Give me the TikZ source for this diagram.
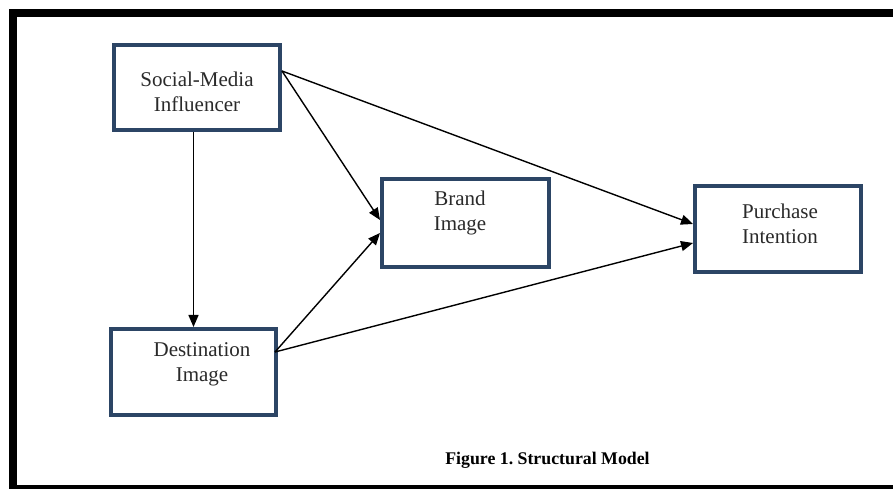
\documentclass[tikz,border=0pt]{standalone}
\usepackage{fontspec}
\setmainfont{Liberation Serif}
\usetikzlibrary{arrows.meta}
\definecolor{boxblue}{HTML}{2C4565}
\definecolor{txt}{HTML}{2A2A2A}
\tikzset{
  box/.style={draw=boxblue, line width=4pt, fill=white, minimum width=#1, minimum height=86pt, inner sep=0pt},
  lbl/.style={align=center, font=\fontsize{21}{25}\selectfont, text=txt, inner sep=0pt},
  arr/.style={draw=black, line width=1.4pt, -{Triangle[length=12pt,width=10pt]}},
  frame/.style={draw=black, line width=8pt}
}
\frenchspacing
\begin{document}
\begin{tikzpicture}[x=1pt,y=1pt]
\useasboundingbox (0,0) rectangle (893,489);
\clip (0,0) rectangle (893,489);
\fill[white] (0,0) rectangle (893,489);
\draw[frame] (13,0) rectangle (905,476);

\node[box=166pt, minimum height=85pt] (smi) at (197,401.5) {};
\node[box=165pt, minimum height=86pt] (di) at (193.5,117) {};
\node[box=167pt, minimum height=88pt] (bi) at (465.5,266) {};
\node[box=166pt, minimum height=86pt] (pi) at (778,260) {};

\node[lbl] (smit) at (197,397.5) {Social-Media\\Influencer};
\node[lbl] (dit) at (202,125) {Destination\\Image};
\node[lbl] (bit) at (460,276) {Brand\\Image};
\node[lbl] (pit) at (780,265) {Purchase\\Intention};

\node[font=\bfseries\fontsize{17.8}{20}\selectfont, anchor=base, inner sep=0pt] (cap) at (547.5,24) {Figure 1. Structural Model};

\draw[arr] (di.north |- smi.south) -- (di.north);
\draw[arr] ([yshift=16.5pt]smi.east) -- ([yshift=3pt]bi.west);
\draw[arr] ([yshift=16.5pt]smi.east) -- ([yshift=5pt]pi.west);
\draw[arr] ([yshift=20pt,xshift=-3pt]di.east) -- ([yshift=-10pt]bi.west);
\draw[arr] ([yshift=20pt,xshift=-3pt]di.east) -- ([yshift=-14pt]pi.west);
\end{tikzpicture}
\end{document}
